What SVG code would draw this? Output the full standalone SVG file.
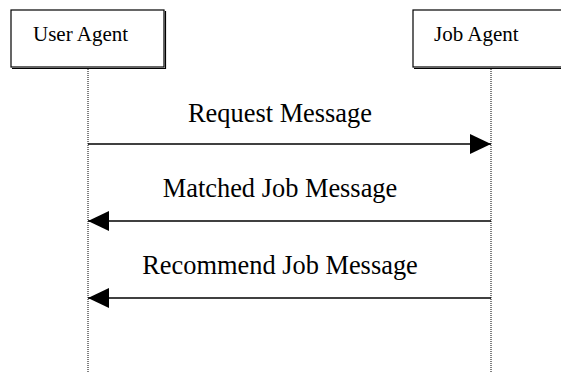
<svg xmlns="http://www.w3.org/2000/svg" width="561" height="372" viewBox="0 0 561 372">
  <style>
    .box { fill: #fff; stroke: #000; stroke-width: 1.2; }
    .shadow { fill: none; stroke: #000; stroke-width: 1.2; }
    .life { stroke: #000; stroke-width: 1; stroke-dasharray: 1 1; fill: none; }
    .msg { stroke: #000; stroke-width: 1.6; fill: none; }
    .lbl { font-family: "Liberation Serif", "Times New Roman", serif; fill: #000; }
    .name { font-size: 21px; }
    .mtxt { font-size: 26.4px; text-anchor: middle; }
  </style>
  <defs>
    <marker id="head" viewBox="0 0 21 20" refX="21" refY="10" markerWidth="21" markerHeight="20" markerUnits="userSpaceOnUse" orient="auto">
      <path d="M0,0 L21,10 L0,20 Z" fill="#000"/>
    </marker>
  </defs>

  <!-- lifelines -->
  <g id="lifelines">
    <line class="life" x1="88" y1="69" x2="88" y2="372"/>
    <line class="life" x1="491" y1="69" x2="491" y2="372"/>
  </g>

  <g id="user-agent">
    <rect class="box" x="11" y="10" width="153" height="57"/>
    <polyline class="shadow" points="12,68.5 165.5,68.5 165.5,11"/>
    <text class="lbl name" x="33" y="41">User Agent</text>
  </g>

  <g id="job-agent">
    <rect class="box" x="413" y="10" width="160" height="57"/>
    <line class="shadow" x1="414" y1="68.5" x2="561" y2="68.5"/>
    <text class="lbl name" x="434" y="41">Job Agent</text>
  </g>

  <g id="connectors">
    <line class="msg" x1="88" y1="144" x2="491" y2="144" marker-end="url(#head)"/>
    <line class="msg" x1="491" y1="221" x2="88" y2="221" marker-end="url(#head)"/>
    <line class="msg" x1="491" y1="298" x2="88" y2="298" marker-end="url(#head)"/>
  </g>

  <g id="labels">
    <text class="lbl mtxt" x="280" y="122">Request Message</text>
    <text class="lbl mtxt" x="280" y="197">Matched Job Message</text>
    <text class="lbl mtxt" x="280" y="274">Recommend Job Message</text>
  </g>
</svg>
